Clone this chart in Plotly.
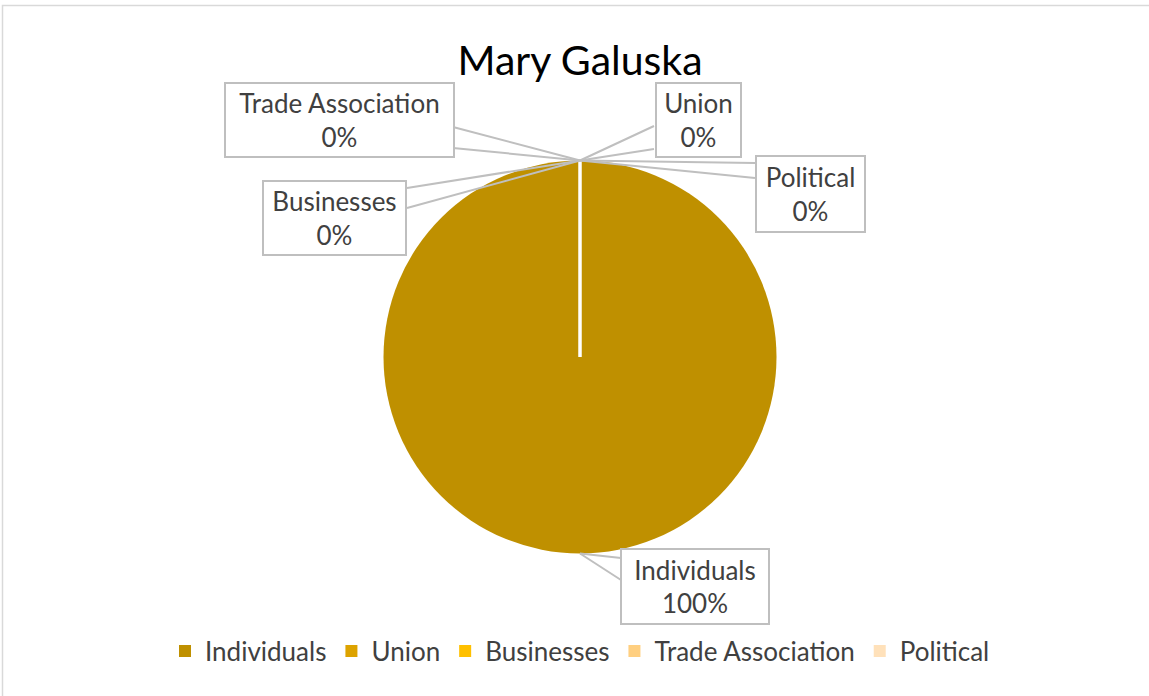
import plotly.graph_objects as go

# ---- data ----
categories = ["Individuals", "Union", "Businesses", "Trade Association", "Political"]
values = [100, 0, 0, 0, 0]
percent_labels = ["100%", "0%", "0%", "0%", "0%"]
colors = ["#BF9000", "#DDA300", "#FFC000", "#FFCF80", "#FFE1BA"]
title_text = "Mary Galuska"

W, H = 1149, 696
FONT = "Lato"
TXT = "#404040"
LEADER = "#BFBFBF"

# pie placement (pixels -> paper)
cx_px, cy_px, r_px = 580, 357, 196.5
dom_x = [(cx_px - r_px) / W, (cx_px + r_px) / W]
dom_y = [(H - (cy_px + r_px)) / H, (H - (cy_px - r_px)) / H]

fig = go.Figure()
fig.add_trace(go.Pie(
    labels=categories, values=values, sort=False, direction="clockwise",
    rotation=0, textinfo="none", hoverinfo="label+percent",
    marker=dict(colors=colors, line=dict(width=0)),
    domain=dict(x=dom_x, y=dom_y), showlegend=True,
))

cx = sum(dom_x) / 2
top_y = dom_y[1]
bot_y = dom_y[0]

# callout boxes: centre x, centre y, width, height (pixels), wedge base (x, y1, y2)
callouts = {
    "Trade Association": ((339.5, 120, 231, 76), (453, 127, 148)),
    "Union": ((698.5, 120, 87, 76), (654, 126, 149)),
    "Political": ((810.5, 194, 111, 78), (755, 163, 178)),
    "Businesses": ((334.5, 218, 145, 76), (407, 188, 208)),
    "Individuals": ((695, 586.5, 150, 77), (621, 558, 580)),
}
PAD = 3
for cat, pct in zip(categories, percent_labels):
    (bx, by, bw, bh), (wx, wy1, wy2) = callouts[cat]
    if cat == "Individuals":
        tip_paper = (cx, bot_y)
        tip_px = (cx_px, cy_px + r_px)
    else:
        tip_paper = (cx, top_y)
        tip_px = (cx_px, cy_px - r_px)
    # callout wedge: two leader lines from the box edge to the slice point
    for wy in (wy1, wy2):
        fig.add_annotation(
            x=tip_paper[0], y=tip_paper[1], xref="paper", yref="paper",
            ax=wx - tip_px[0], ay=wy - tip_px[1], axref="pixel", ayref="pixel",
            text="", showarrow=True, arrowhead=0, arrowwidth=2,
            arrowcolor=LEADER, borderpad=0, borderwidth=0,
        )
    fig.add_annotation(
        x=bx / W, y=1 - by / H, xref="paper", yref="paper",
        xanchor="center", yanchor="middle",
        text=f"{cat}<br>{pct}", showarrow=False,
        bordercolor=LEADER, borderwidth=2, borderpad=PAD, bgcolor="white",
        width=bw - 2 * PAD - 4, height=bh - 2 * PAD - 4,
        font=dict(family=FONT, size=26, color=TXT), align="center",
        valign="middle",
    )

# white radial separator line of the full slice (start edge at 12 o'clock)
fig.add_shape(type="line", xref="paper", yref="paper",
              x0=cx, y0=(dom_y[0] + dom_y[1]) / 2, x1=cx, y1=top_y,
              line=dict(color="white", width=3.5))

# chart-area border
fig.add_shape(type="rect", xref="paper", yref="paper",
              x0=2.5 / W, y0=-0.2, x1=1.2, y1=(H - 5.5) / H,
              line=dict(color="#D9D9D9", width=1.5), layer="below")

fig.update_layout(
    width=W, height=H, margin=dict(l=0, r=0, t=0, b=0),
    paper_bgcolor="white", plot_bgcolor="white",
    title=dict(text=title_text, x=cx, xanchor="center", y=(H - 61) / H,
               yanchor="middle", font=dict(family=FONT, size=41, color="#000000")),
    legend=dict(orientation="h", x=cx, xanchor="center", y=(H - 651) / H,
                yanchor="middle", font=dict(family=FONT, size=26, color=TXT),
                itemwidth=30, traceorder="normal"),
    showlegend=True,
)

fig.write_html("out.html", config={"displayModeBar": False},
               post_script="document.body.style.margin='0';document.body.style.overflow='hidden';")
